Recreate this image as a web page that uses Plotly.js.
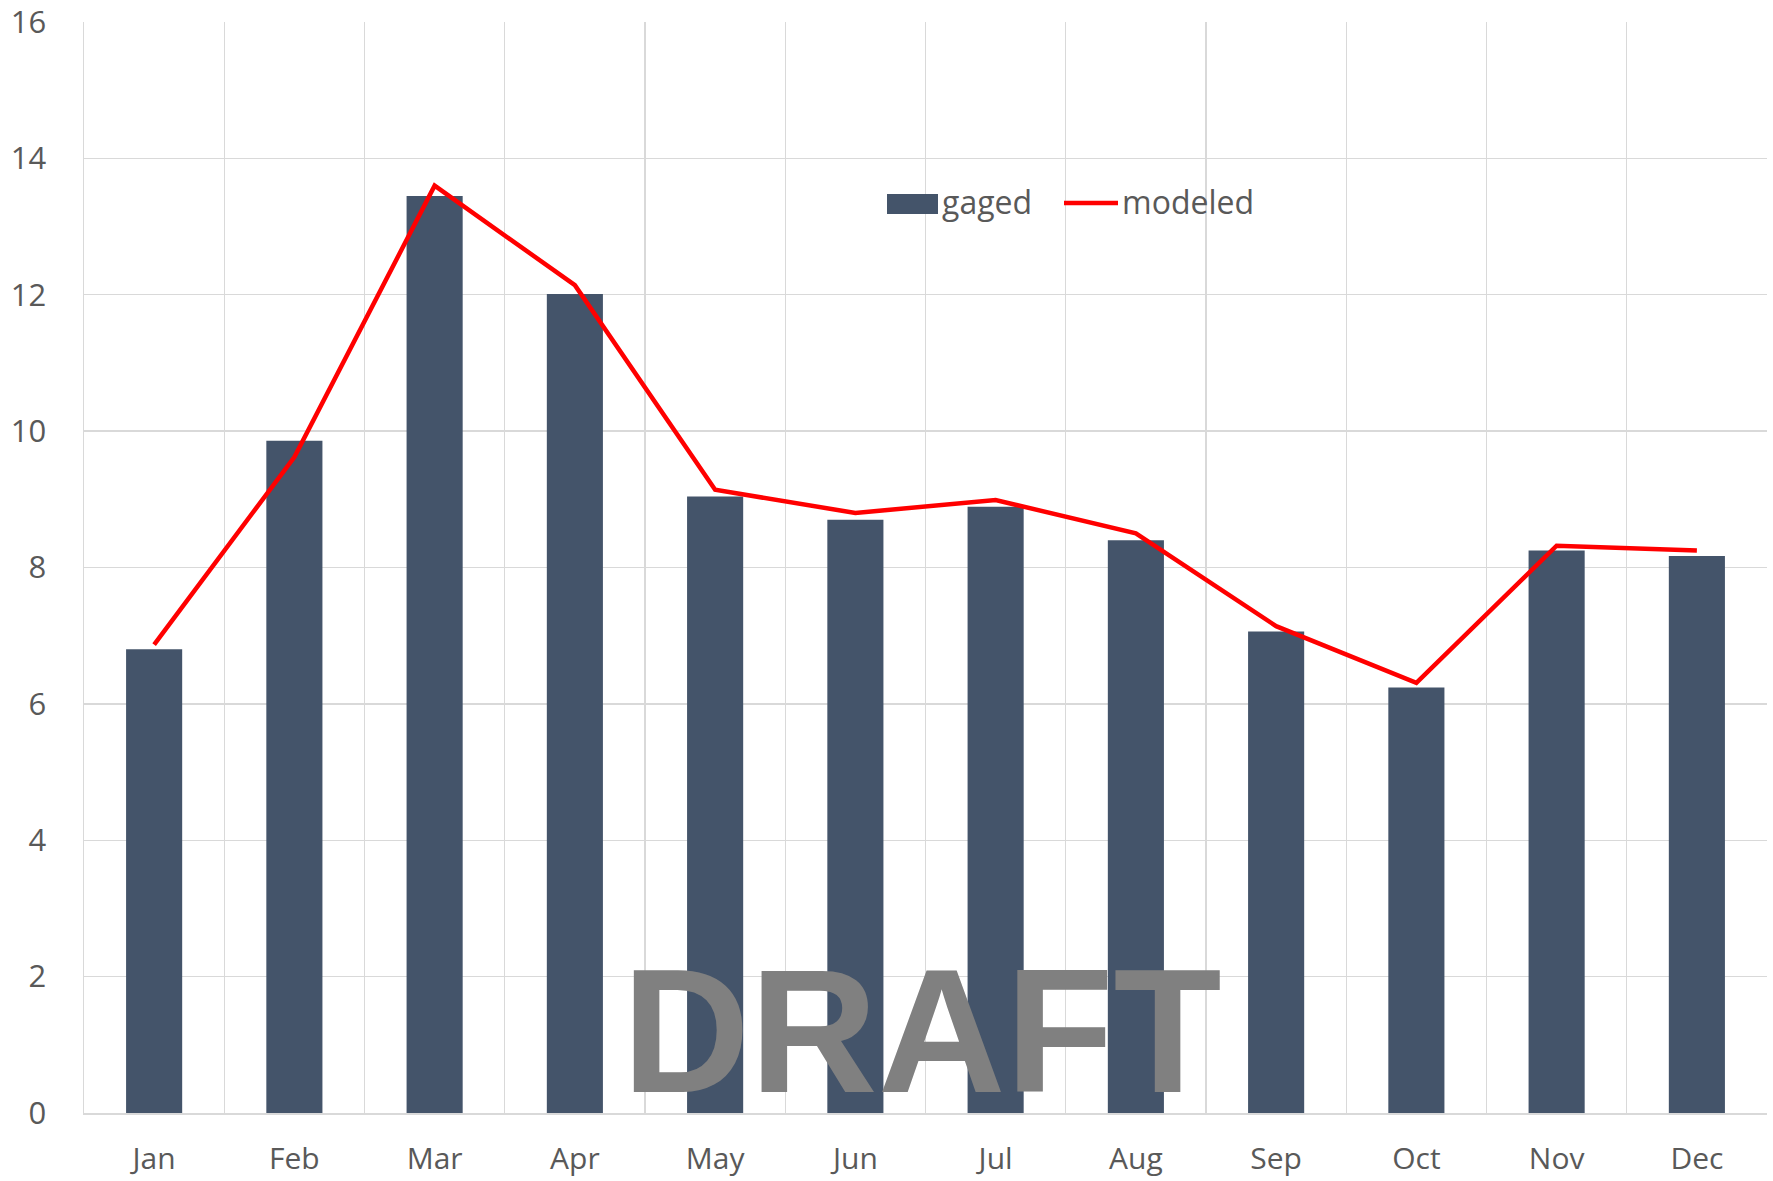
<!DOCTYPE html>
<html>
<head>
<meta charset="utf-8">
<script src="https://cdn.plot.ly/plotly-3.0.1.min.js"></script>
<style>
html,body{margin:0;padding:0;background:#fff;}
#chart{width:1773px;height:1181px;}
</style>
</head>
<body>
<div id="chart"></div>
<script>
var months = ["Jan","Feb","Mar","Apr","May","Jun","Jul","Aug","Sep","Oct","Nov","Dec"];
var gaged = [6.80, 9.86, 13.45, 12.01, 9.04, 8.70, 8.89, 8.40, 7.06, 6.24, 8.25, 8.17];
var modeled = [6.87, 9.62, 13.60, 12.14, 9.14, 8.80, 8.99, 8.50, 7.14, 6.31, 8.32, 8.25];
var yTicks = [0, 2, 4, 6, 8, 10, 12, 14, 16];
var seriesNames = ["gaged", "modeled"];
var watermark = "DRAFT";

var barColor = "#44546A";
var lineColor = "#FF0000";
var textColor = "#595959";
var gridColor = "#D9D9D9";
var fontFamily = "'Open Sans', 'Noto Sans', sans-serif";

var traces = [
  {
    type: "bar",
    name: seriesNames[0],
    x: months,
    y: gaged,
    width: 0.4,
    marker: {color: barColor},
    showlegend: false,
    hoverinfo: "x+y"
  },
  {
    type: "scatter",
    mode: "lines",
    name: seriesNames[1],
    x: months,
    y: modeled,
    line: {color: lineColor, width: 4.5},
    showlegend: false,
    hoverinfo: "x+y"
  }
];

// pixel -> paper helpers (plot area 84..1767 x, 22..1113 y)
var L = 84, R = 1767, T = 22, B = 1113;
function px(x){ return (x - L) / (R - L); }
function py(y){ return (B - y) / (B - T); }

var layout = {
  width: 1773,
  height: 1181,
  margin: {l: L, r: 1773 - R, t: T, b: 1181 - B, pad: 0},
  paper_bgcolor: "#ffffff",
  plot_bgcolor: "#ffffff",
  font: {family: fontFamily, color: textColor, size: 31},
  showlegend: false,
  bargap: 0.6,
  xaxis: {
    type: "category",
    automargin: false,
    tickson: "boundaries",
    showgrid: true,
    gridcolor: gridColor,
    gridwidth: 1.3,
    showline: true,
    linecolor: gridColor,
    linewidth: 1.5,
    ticks: "",
    ticklabelstandoff: 18,
    ticklabeloverflow: "allow",
    tickfont: {family: fontFamily, size: 30, color: textColor},
    zeroline: false,
    fixedrange: true
  },
  yaxis: {
    range: [0, 16],
    tickmode: "array",
    tickvals: yTicks,
    ticktext: yTicks.map(String),
    automargin: false,
    showgrid: true,
    gridcolor: gridColor,
    gridwidth: 1.3,
    showline: true,
    linecolor: gridColor,
    linewidth: 1.5,
    zeroline: false,
    ticks: "",
    ticklabelstandoff: 30,
    ticklabeloverflow: "allow",
    tickfont: {family: fontFamily, size: 31, color: textColor},
    fixedrange: true
  },
  shapes: [
    {type: "rect", xref: "paper", yref: "paper",
     x0: px(887), x1: px(938), y0: py(214), y1: py(194),
     fillcolor: barColor, line: {width: 0}},
    {type: "line", xref: "paper", yref: "paper",
     x0: px(1064), x1: px(1118), y0: py(203), y1: py(203),
     line: {color: lineColor, width: 4.5}}
  ],
  annotations: [
    {xref: "paper", yref: "paper", x: px(940), y: py(201), xanchor: "left", yanchor: "middle",
     text: seriesNames[0], showarrow: false,
     font: {family: fontFamily, size: 32, color: textColor}},
    {xref: "paper", yref: "paper", x: px(1120), y: py(201), xanchor: "left", yanchor: "middle",
     text: seriesNames[1], showarrow: false,
     font: {family: fontFamily, size: 32, color: textColor}},
    {xref: "paper", yref: "paper", x: px(921.5), y: py(1030.5), xanchor: "center", yanchor: "middle",
     text: watermark, showarrow: false,
     font: {family: "'Liberation Sans', Arial, sans-serif", size: 177, color: "#808080", weight: 700}}
  ]
};

Plotly.newPlot("chart", traces, layout, {displayModeBar: false, staticPlot: true});
</script>
</body>
</html>
